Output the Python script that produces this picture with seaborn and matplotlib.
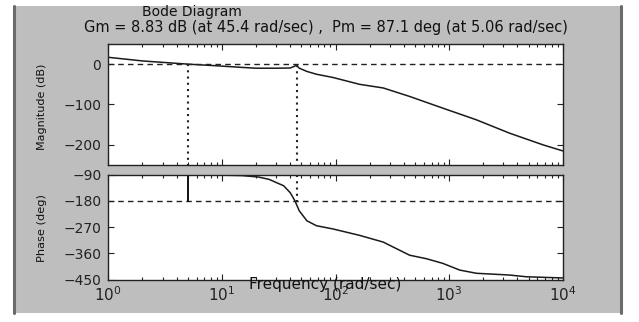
import numpy as np
import pandas as pd
import matplotlib
matplotlib.use("Agg")
import matplotlib.pyplot as plt
import seaborn as sns
from matplotlib.patches import Rectangle
from matplotlib.lines import Line2D
from matplotlib.ticker import LogLocator, NullFormatter

# ---- data ----
mag_freq = [1, 2, 5.06, 9, 15, 20, 30, 40, 45.4, 48, 56, 68, 95, 163, 263, 449, 880, 1740, 3400, 6700, 10000]
mag_db = [17, 8, 0, -4, -8, -10, -10, -9.5, -3, -10, -18, -25, -33, -50, -59, -80, -109, -138, -171, -200, -215]

ph_freq = [1, 5.06, 10, 15, 21, 26, 35, 40, 44, 48, 56, 68, 95, 163, 263, 449, 631, 880, 1240, 1740, 3400, 4800, 10000]
ph_deg = [-90.5, -91, -91.5, -93, -98, -106, -128, -152, -180, -214, -248, -265, -276, -298, -321, -366, -378, -394, -417, -428, -434, -440, -444]

gm_freq = 45.4
pm_freq = 5.06
pm_phase = -92.9

title1 = "Bode Diagram"
title2 = "Gm = 8.83 dB (at 45.4 rad/sec) ,  Pm = 87.1 deg (at 5.06 rad/sec)"
mag_ticks = [0, -100, -200]
ph_ticks = [-90, -180, -270, -360, -450]
x_ticks = [1, 10, 100, 1000, 10000]
x_ticklabels = ["$10^{0}$", "$10^{1}$", "$10^{2}$", "$10^{3}$", "$10^{4}$"]

sns.set_theme(style="white")
plt.rcParams["font.family"] = ["DejaVu Sans"]
plt.rcParams["mathtext.fontset"] = "dejavusans"

W, H = 639, 322
fig = plt.figure(figsize=(W / 100, H / 100), dpi=100)
fig.patch.set_facecolor("white")

# gray panel
gray = "#bebebe"
fig.patches.append(Rectangle((13 / W, 1 - 313 / H), (622 - 13) / W, (313 - 6) / H,
                             transform=fig.transFigure, facecolor=gray, edgecolor="none", zorder=-10))
for xx in (14 / W, 621 / W):
    fig.lines.append(Line2D([xx, xx], [1 - 313 / H, 1 - 6 / H], transform=fig.transFigure,
                            color="#6a6a6a", lw=2.2, zorder=-9))

def px_axes(x0, x1, y0, y1):
    return fig.add_axes([x0 / W, 1 - y1 / H, (x1 - x0) / W, (y1 - y0) / H])

ax1 = px_axes(108.3, 562.7, 44, 165)
ax2 = px_axes(108.3, 562.7, 174.7, 279.7)

line_c = "#1a1a1a"
df_mag = pd.DataFrame({"w": mag_freq, "m": mag_db})
df_ph = pd.DataFrame({"w": ph_freq, "p": ph_deg})
sns.lineplot(data=df_mag, x="w", y="m", ax=ax1, color=line_c, lw=1.1, estimator=None, sort=False)
sns.lineplot(data=df_ph, x="w", y="p", ax=ax2, color=line_c, lw=1.1, estimator=None, sort=False)

for ax in (ax1, ax2):
    ax.set_xscale("log")
    ax.set_xlim(1, 10000)
    ax.set_facecolor("white")
    for s in ax.spines.values():
        s.set_color("#222222")
        s.set_linewidth(1.0)
    ax.xaxis.set_minor_locator(LogLocator(base=10, subs=np.arange(2, 10)))
    ax.xaxis.set_minor_formatter(NullFormatter())
    ax.tick_params(which="both", direction="in", top=True, right=True, bottom=True, left=True,
                   color="#222222", labelsize=10, labelcolor="#222222")
    ax.tick_params(which="major", length=4, width=0.8)
    ax.tick_params(which="minor", length=2.5, width=0.8)
    ax.tick_params(axis="y", pad=5)
    ax.set_xlabel("")
    ax.set_ylabel("")

ax1.set_ylim(-250, 50)
ax1.set_yticks(mag_ticks)
ax1.set_xticks(x_ticks)
ax1.set_xticklabels([])
ax1.axhline(0, color="#222222", lw=1.0, ls=(0, (4, 3)))
ax1.plot([pm_freq, pm_freq], [0, -250], color="#222222", lw=1.5, ls=(0, (1, 2)))
ax1.plot([gm_freq, gm_freq], [mag_db[mag_freq.index(gm_freq)], -250], color="#222222", lw=1.5, ls=(0, (1, 2)))

ax2.set_ylim(-450, -90)
ax2.set_yticks(ph_ticks)
ax2.set_xticks(x_ticks)
ax2.set_xticklabels(x_ticklabels, fontsize=11)
ax2.tick_params(axis="x", which="major", pad=4)
ax2.axhline(-180, color="#222222", lw=1.0, ls=(0, (4, 3)))
ax2.plot([pm_freq, pm_freq], [-180, pm_phase], color="#111111", lw=1.4)
ax2.plot([gm_freq, gm_freq], [-90, -180], color="#222222", lw=1.5, ls=(0, (1, 2)))

# texts
fig.text(192 / W, 1 - 12 / H, title1, ha="center", va="center", fontsize=10, color="#111111")
fig.text(326 / W, 1 - 27.5 / H, title2, ha="center", va="center", fontsize=10.5, color="#111111")
fig.text(42 / W, 1 - 107 / H, "Magnitude (dB)", rotation=90, ha="center", va="center", fontsize=8, color="#111111")
fig.text(42 / W, 1 - 228 / H, "Phase (deg)", rotation=90, ha="center", va="center", fontsize=8.2, color="#111111")
fig.text(325 / W, 1 - 285 / H, "Frequency (rad/sec)", ha="center", va="center", fontsize=11, color="#111111", zorder=10)

fig.savefig("out.png", dpi=100)
